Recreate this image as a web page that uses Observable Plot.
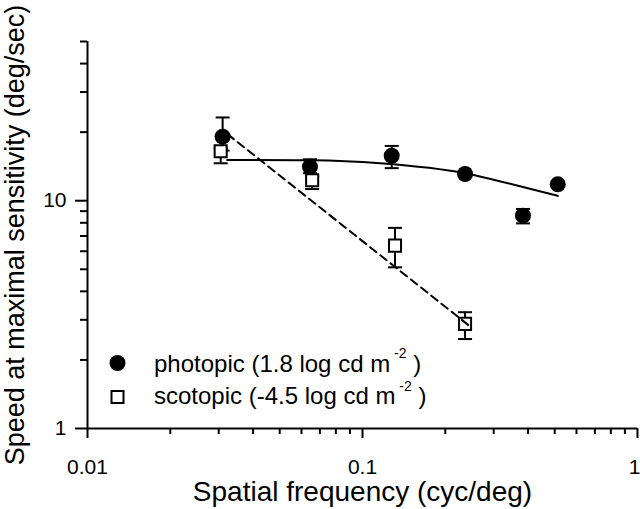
<!DOCTYPE html>
<html>
<head>
<meta charset="utf-8">
<script src="https://cdn.jsdelivr.net/npm/d3@7"></script>
<script src="https://cdn.jsdelivr.net/npm/@observablehq/plot@0.6"></script>
<style>
  body { margin: 0; background: #fff; }
</style>
</head>
<body>
<div id="chart"></div>
<script>
// ---- Data ----
const photopicFreq = [0.031, 0.0644, 0.1277, 0.236, 0.3833, 0.513];
const photopicSpeed = [19.1, 14.1, 15.75, 13.1, 8.6, 11.8];
const photopicLo = [16.6, 13.2, 13.9, 12.8, 7.95, 11.5];
const photopicHi = [23.2, 15.2, 17.4, 13.4, 9.2, 12.1];

const scotopicFreq = [0.0305, 0.0656, 0.1313, 0.236];
const scotopicSpeed = [16.5, 12.3, 6.35, 2.88];
const scotopicLo = [14.6, 11.25, 5.1, 2.47];
const scotopicHi = [17.0, 12.8, 7.6, 3.24];

const fitPhotopicFreq = [0.0322, 0.0655, 0.116, 0.236, 0.35, 0.513];
const fitPhotopicSpeed = [15.1, 15.05, 14.6, 13.2, 11.8, 10.5];

const fitScotopicFreq = [0.0323, 0.244];
const fitScotopicSpeed = [19.6, 2.83];

const xMajorTicks = [0.01, 0.1, 1];
const xMinorTicks = [0.02, 0.03, 0.04, 0.05, 0.06, 0.07, 0.08, 0.09, 0.2, 0.3, 0.4, 0.5, 0.6, 0.7, 0.8, 0.9];
const yMajorTicks = [1, 10];
const yMinorTicks = [2, 3, 4, 5, 6, 7, 8, 9, 20, 30, 40, 50];

const xTitle = "Spatial frequency (cyc/deg)";
const yTitle = "Speed at maximal sensitivity (deg/sec)";
const legendLabels = ["photopic (1.8 log cd m", "scotopic (-4.5 log cd m"];
const legendSup = "-2";

// ---- Tables ----
const photopic = photopicFreq.map((f, i) => ({f, v: photopicSpeed[i], lo: photopicLo[i], hi: photopicHi[i]}));
const scotopic = scotopicFreq.map((f, i) => ({f, v: scotopicSpeed[i], lo: scotopicLo[i], hi: scotopicHi[i]}));
const fitP = fitPhotopicFreq.map((f, i) => ({f, v: fitPhotopicSpeed[i]}));
const fitS = fitScotopicFreq.map((f, i) => ({f, v: fitScotopicSpeed[i]}));

// horizontal-line symbol for error-bar caps
const capSymbol = {
  draw(ctx, size) {
    const w = Math.sqrt(size / Math.PI);
    ctx.moveTo(-w, 0);
    ctx.lineTo(w, 0);
  }
};

const font = "'Liberation Sans', Arial, Helvetica, sans-serif";
const xLabelsInner = xMajorTicks.slice(0, -1);
const xLabelsEdge = xMajorTicks.slice(-1);

const svg = Plot.plot({
  width: 640,
  height: 509,
  marginLeft: 87,
  marginRight: 3,
  marginTop: 41,
  marginBottom: 81,
  style: {fontFamily: font, fontSize: "21px", color: "#000", background: "#fff"},
  x: {type: "log", domain: [0.01, 1], label: null},
  y: {type: "log", domain: [1, 50], label: null},
  marks: [
    Plot.axisX(xMinorTicks, {tickSize: 6, strokeWidth: 2, tickFormat: () => "", label: null}),
    Plot.axisX(xMajorTicks, {tickSize: 10, strokeWidth: 2, tickFormat: () => "", label: null}),
    Plot.axisX(xLabelsInner, {tickSize: 0, tickPadding: 31, tickFormat: d => String(d), label: null}),
    Plot.axisX(xLabelsEdge, {tickSize: 0, tickPadding: 31, dx: -3, tickFormat: d => String(d), label: null}),
    Plot.axisY(yMinorTicks, {tickSize: 7, strokeWidth: 2, tickFormat: () => "", label: null}),
    Plot.axisY(yMajorTicks, {tickSize: 12, tickPadding: 9, strokeWidth: 2, tickFormat: d => String(d), label: null}),
    Plot.ruleY([1], {strokeWidth: 2, stroke: "black"}),
    Plot.ruleX([0.01], {strokeWidth: 2, stroke: "black"}),

    // error bars
    Plot.ruleX(photopic, {x: "f", y1: "lo", y2: "hi", strokeWidth: 2, stroke: "black"}),
    Plot.dot(photopic, {x: "f", y: "lo", symbol: capSymbol, r: 7, stroke: "black", strokeWidth: 2}),
    Plot.dot(photopic, {x: "f", y: "hi", symbol: capSymbol, r: 7, stroke: "black", strokeWidth: 2}),
    Plot.ruleX(scotopic, {x: "f", y1: "lo", y2: "hi", strokeWidth: 2, stroke: "black"}),
    Plot.dot(scotopic, {x: "f", y: "lo", symbol: capSymbol, r: 7, stroke: "black", strokeWidth: 2}),
    Plot.dot(scotopic, {x: "f", y: "hi", symbol: capSymbol, r: 7, stroke: "black", strokeWidth: 2}),

    // markers
    Plot.dot(scotopic, {x: "f", y: "v", symbol: "square", r: 6.8, fill: "white", stroke: "black", strokeWidth: 2}),
    Plot.dot(photopic, {x: "f", y: "v", r: 8, fill: "black"}),

    // fits
    Plot.line(fitP, {x: "f", y: "v", stroke: "black", strokeWidth: 2, curve: "monotone-x"}),
    Plot.line(fitS, {x: "f", y: "v", stroke: "black", strokeWidth: 2, strokeDasharray: "8,5"}),

    // axis titles
    Plot.text([xTitle], {frameAnchor: "bottom", dy: 64, fontSize: 28, lineAnchor: "middle", textAnchor: "middle", fill: "black"}),
    Plot.text([yTitle], {frameAnchor: "left", rotate: -90, dx: -72.6, fontSize: 27, lineAnchor: "middle", textAnchor: "middle", fill: "black"})
  ]
});

// ---- Legend ----
const lg = d3.select(svg).append("g").attr("font-family", font).attr("fill", "black").attr("text-anchor", "start");
const rows = [
  {label: legendLabels[0], cy: 363, base: 371.7, kind: "circle"},
  {label: legendLabels[1], cy: 397, base: 404, kind: "square"}
];
rows.forEach(r => {
  if (r.kind === "circle") {
    lg.append("circle").attr("cx", 117.5).attr("cy", r.cy).attr("r", 8).attr("fill", "black");
  } else {
    lg.append("rect").attr("x", 117.5 - 6).attr("y", r.cy - 6).attr("width", 12).attr("height", 12)
      .attr("fill", "white").attr("stroke", "black").attr("stroke-width", 2);
  }
  const t = lg.append("text").attr("x", 154).attr("y", r.base).attr("font-size", 24).attr("text-anchor", "start");
  t.append("tspan").text(r.label);
  t.append("tspan").attr("dy", -13.5).attr("font-size", 14).text(" " + legendSup);
  t.append("tspan").attr("dy", 13.5).text(" )");
});

document.getElementById("chart").appendChild(svg);
</script>
</body>
</html>
